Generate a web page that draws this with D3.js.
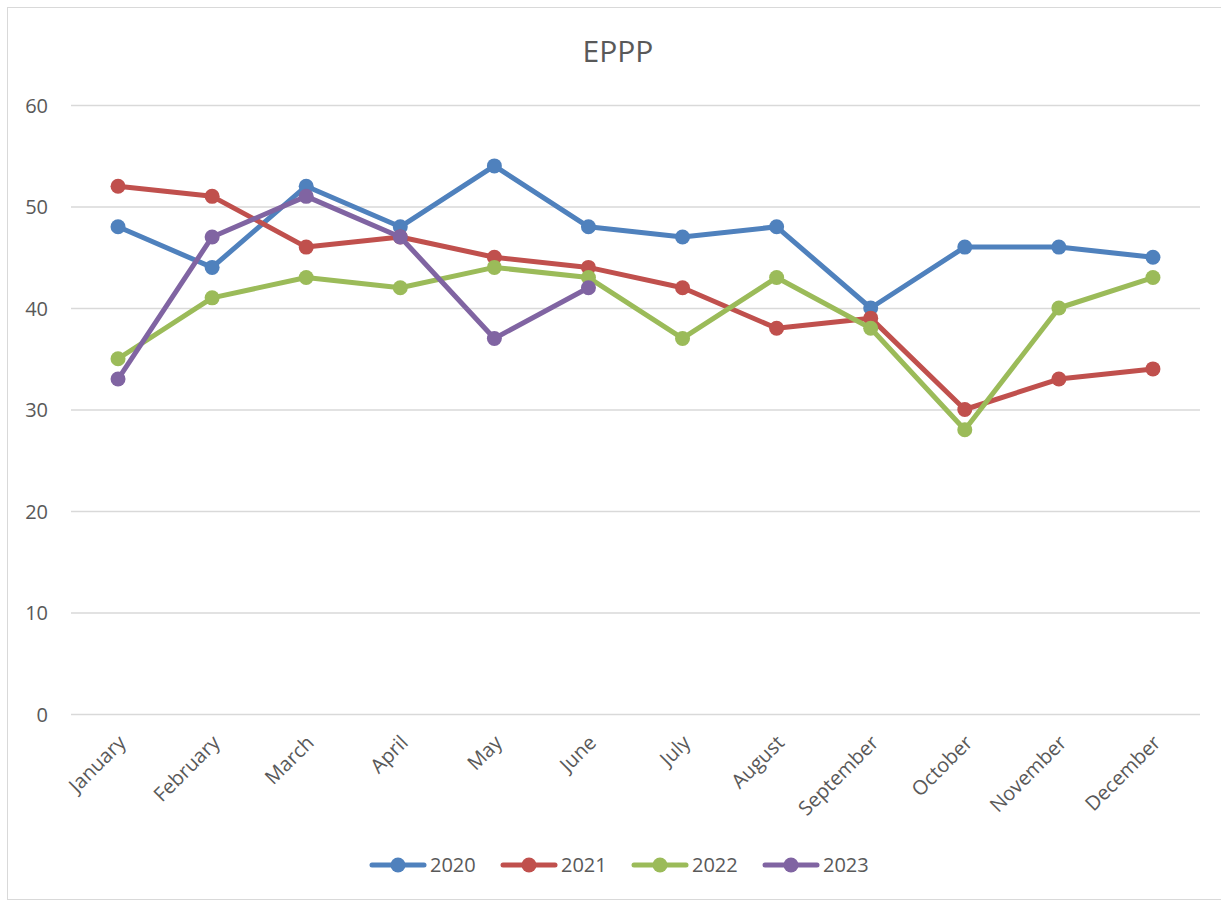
<!DOCTYPE html>
<html>
<head>
<meta charset="utf-8">
<script src="https://cdn.jsdelivr.net/npm/d3@7"></script>
<style>
  body { margin: 0; background: #fff; }
  svg { font-family: "Open Sans", "Noto Sans", sans-serif; }
  .grid line { stroke: #d9d9d9; stroke-width: 1.5; }
  .tick text { fill: #595959; font-size: 20px; font-family: "Open Sans", "Noto Sans", sans-serif; }
</style>
</head>
<body>
<svg id="chart" width="1221" height="902"></svg>
<script>
  // chart data
  var months = ['January', 'February', 'March', 'April', 'May', 'June',
    'July', 'August', 'September', 'October', 'November', 'December'];
  var years = ['2020', '2021', '2022', '2023'];
  var v2020 = [48, 44, 52, 48, 54, 48, 47, 48, 40, 46, 46, 45];
  var v2021 = [52, 51, 46, 47, 45, 44, 42, 38, 39, 30, 33, 34];
  var v2022 = [35, 41, 43, 42, 44, 43, 37, 43, 38, 28, 40, 43];
  var v2023 = [33, 47, 51, 47, 37, 42];
  var yTicks = [0, 10, 20, 30, 40, 50, 60];
  var colors = ['#4f81bd', '#c0504d', '#9bbb59', '#8064a2'];

  var series = [v2020, v2021, v2022, v2023].map(function(vals, i) {
    return { name: years[i], color: colors[i], values: vals };
  });

  var svg = d3.select('#chart');

  // outer frame
  svg.append('rect')
    .attr('x', 7.5).attr('y', 7.5)
    .attr('width', 1230).attr('height', 892)
    .attr('fill', 'none')
    .attr('stroke', '#d9d9d9');

  var plotLeft = 71, plotRight = 1200, plotTop = 105, plotBottom = 714;

  var x = d3.scaleBand().domain(months).range([plotLeft, plotRight]);
  var y = d3.scaleLinear().domain([0, 60]).range([plotBottom, plotTop]);

  // title
  svg.append('text')
    .attr('x', 618).attr('y', 62)
    .attr('text-anchor', 'middle')
    .attr('fill', '#595959')
    .style('font-size', '30px')
    .text('EPPP');

  // gridlines + y labels
  var yAxis = svg.append('g')
    .attr('class', 'grid')
    .attr('transform', 'translate(' + plotLeft + ',0)')
    .call(d3.axisLeft(y).tickValues(yTicks).tickSize(-(plotRight - plotLeft)).tickPadding(23));
  yAxis.select('.domain').remove();
  yAxis.selectAll('.tick text').attr('dy', '0.35em');

  // x labels
  var xAxis = svg.append('g')
    .attr('transform', 'translate(0,' + plotBottom + ')')
    .call(d3.axisBottom(x).tickSize(0));
  xAxis.select('.domain').remove();
  xAxis.selectAll('.tick text')
    .attr('text-anchor', 'end')
    .attr('transform', 'translate(4,25) rotate(-45)')
    .attr('dy', '0.35em')
    .attr('y', 0);

  var cx = function(d, i) { return x(months[i]) + x.bandwidth() / 2; };

  var line = d3.line()
    .x(cx)
    .y(function(d) { return y(d); });

  var g = svg.append('g');
  series.forEach(function(s) {
    g.append('path')
      .datum(s.values)
      .attr('d', line)
      .attr('fill', 'none')
      .attr('stroke', s.color)
      .attr('stroke-width', 5)
      .attr('stroke-linejoin', 'round')
      .attr('stroke-linecap', 'round');
    g.selectAll(null)
      .data(s.values)
      .enter().append('circle')
        .attr('cx', cx)
        .attr('cy', function(d) { return y(d); })
        .attr('r', 7.5)
        .attr('fill', s.color);
  });

  // legend
  var legend = svg.append('g')
    .selectAll('g')
    .data(series)
    .enter().append('g')
      .attr('transform', function(d, i) { return 'translate(' + (372 + i * 131) + ',865)'; });
  legend.append('line')
    .attr('x1', 0).attr('x2', 52)
    .attr('stroke', function(d) { return d.color; })
    .attr('stroke-width', 5)
    .attr('stroke-linecap', 'round');
  legend.append('circle')
    .attr('cx', 26).attr('r', 7.5)
    .attr('fill', function(d) { return d.color; });
  legend.append('text')
    .attr('x', 58).attr('dy', '0.35em')
    .attr('fill', '#595959')
    .style('font-size', '20px')
    .text(function(d) { return d.name; });
</script>
</body>
</html>
